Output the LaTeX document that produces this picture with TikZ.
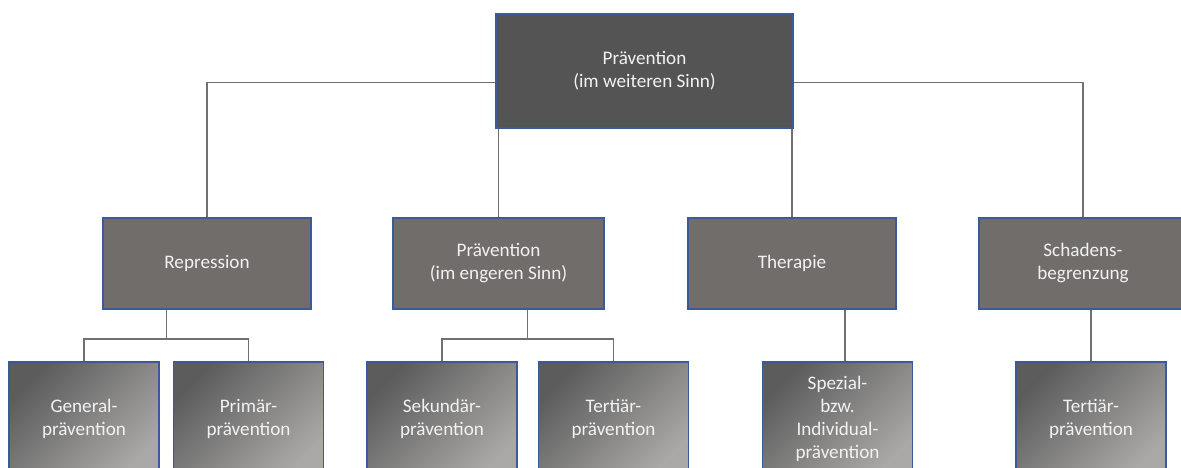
\documentclass[tikz,border=0pt]{standalone}
\usepackage{fontspec}
\setmainfont{Carlito}
\usetikzlibrary{calc}
\definecolor{boxblue}{RGB}{59,90,155}
\definecolor{topgrey}{RGB}{84,84,84}
\definecolor{midgrey}{RGB}{113,109,107}
\definecolor{shadedark}{RGB}{92,92,92}
\definecolor{shadelight}{RGB}{170,168,167}
\definecolor{linkgrey}{RGB}{112,112,112}
\definecolor{labelwhite}{RGB}{242,242,242}
\begin{document}
\begin{tikzpicture}[every node/.style={align=center, text=labelwhite, font=\fontsize{10.9}{13.1}\selectfont},
  box/.style={draw=boxblue, line width=0.85pt, anchor=north, inner sep=2pt},
  topbox/.style={box, fill=topgrey, minimum width=5.94cm, minimum height=2.28cm},
  midbox/.style={box, fill=midgrey, minimum width=4.16cm, minimum height=1.82cm},
  leafbox/.style={box, top color=shadedark, bottom color=shadelight, shading angle=45, minimum width=3cm, minimum height=2.28cm},
  link/.style={draw=linkgrey, line width=0.6pt}]
\useasboundingbox (0,0) rectangle (23.62,-9.34);
\clip (0,0) rectangle (23.62,-9.34);

\node (wide) [topbox] at (12.89,-0.26) {Prävention\\(im weiteren Sinn)};

\node (repr) [midbox] at (4.14,-4.34) {Repression};
\node (narrow) [midbox, minimum width=4.22cm] at (9.97,-4.34) {Prävention\\(im engeren Sinn)};
\node (ther) [midbox] at (15.84,-4.34) {Therapie};
\node (harm) [midbox] at (21.66,-4.34) {Schadens-\\begrenzung};

\node (gen) [leafbox] at (1.68,-7.22) {General-\\prävention};
\node (prim) [leafbox] at (4.97,-7.22) {Primär-\\prävention};
\node (sek) [leafbox] at (8.84,-7.22) {Sekundär-\\prävention};
\node (tert) [leafbox] at (12.27,-7.22) {Tertiär-\\prävention};
\node (spez) [leafbox] at (16.75,-7.22) {Spezial-\\bzw.\\Individual-\\prävention};
\node (tertb) [leafbox] at (21.82,-7.22) {Tertiär-\\prävention};

% first level
\draw[link] ([yshift=-0.24cm]wide.west) -| (repr.north);
\draw[link] ([yshift=-0.24cm]wide.east) -| (harm.north);
\draw[link] (narrow.north |- wide.south) -- (narrow.north);
\draw[link] (ther.north |- wide.south) -- (ther.north);

% second level
\coordinate (reprfork) at ($(gen.north)!0.5!(prim.north)+(0,0.44)$);
\draw[link] (gen.north) |- (reprfork) -| (prim.north);
\draw[link] (reprfork) -- (reprfork |- repr.south);
\coordinate (narrowfork) at ($(sek.north)!0.5!(tert.north)+(0,0.44)$);
\draw[link] (sek.north) |- (narrowfork) -| (tert.north);
\draw[link] (narrowfork) -- (narrowfork |- narrow.south);
\draw[link] ([xshift=0.15cm]spez.north) -- ([xshift=0.15cm]spez.north |- ther.south);
\draw[link] (tertb.north) -- (tertb.north |- harm.south);
\end{tikzpicture}
\end{document}
